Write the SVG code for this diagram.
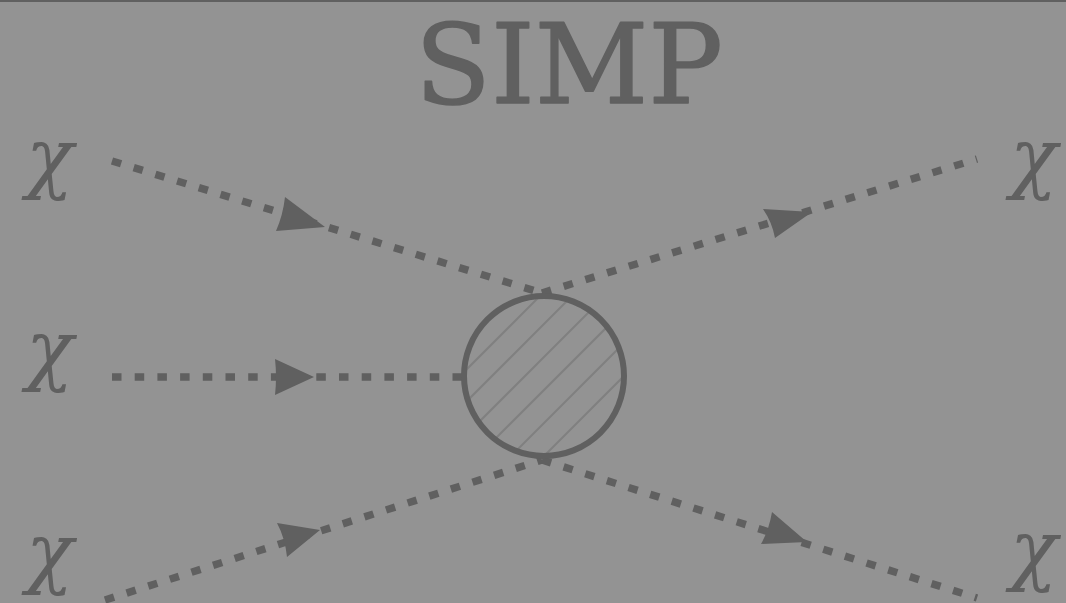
<svg xmlns="http://www.w3.org/2000/svg" width="1066" height="603" viewBox="0 0 1066 603">
<style>
.bg{fill:#939393}
.prop{fill:none;stroke:#606060;stroke-width:7.5;stroke-dasharray:9.5 13.2}
.arrow{fill:#606060}
.chi{font-family:"DejaVu Serif","Liberation Serif",serif;font-style:italic;font-size:78px;fill:#606060}
.title{font-family:"DejaVu Serif","Liberation Serif",serif;font-size:110px;fill:#606060;stroke:#606060;stroke-width:1.5;stroke-linejoin:round}
.hatch{stroke:#808080;stroke-width:2}
</style>
<defs>
<clipPath id="blobClip"><circle cx="544" cy="376" r="80"/></clipPath>
</defs>
<rect class="bg" x="0" y="0" width="1066" height="603"/>
<rect x="0" y="0" width="1066" height="2" fill="#606060"/>
<g id="title"><text class="title" x="415" y="103" textLength="308" lengthAdjust="spacingAndGlyphs">SIMP</text></g>
<g id="connectors">
<path class="prop" d="M112,161 L542,293"/>
<path class="prop" d="M112,377 L462,377"/>
<path class="prop" d="M105,600 L542,460"/>
<path class="prop" d="M542,293 L977,159"/>
<path class="prop" d="M542,460 L977,598"/>
<path class="arrow" d="M325,227 L285,197 Q283,215 276,231 Z"/>
<path class="arrow" d="M314,377 L275,359 Q277,377 275,395 Z"/>
<path class="arrow" d="M320,530 L277,523 Q285,538 287,557 Z"/>
<path class="arrow" d="M812,212 L763,209 Q772,222 775,238 Z"/>
<path class="arrow" d="M807,542 L772,512 Q769,530 761,544 Z"/>
</g>
<g id="vertex">
<g clip-path="url(#blobClip)">
<line class="hatch" x1="336" y1="500" x2="586" y2="250"/>
<line class="hatch" x1="368" y1="500" x2="618" y2="250"/>
<line class="hatch" x1="401" y1="500" x2="651" y2="250"/>
<line class="hatch" x1="434" y1="500" x2="684" y2="250"/>
<line class="hatch" x1="467" y1="500" x2="717" y2="250"/>
<line class="hatch" x1="500" y1="500" x2="750" y2="250"/>
</g>
<circle cx="544" cy="376" r="80" fill="none" stroke="#606060" stroke-width="6"/>
</g>
<g id="chi-in-1"><text class="chi" x="26" y="184">χ</text></g>
<g id="chi-in-2"><text class="chi" x="26" y="376">χ</text></g>
<g id="chi-in-3"><text class="chi" x="26" y="579">χ</text></g>
<g id="chi-out-1"><text class="chi" x="1010" y="184">χ</text></g>
<g id="chi-out-2"><text class="chi" x="1010" y="576">χ</text></g>
</svg>
